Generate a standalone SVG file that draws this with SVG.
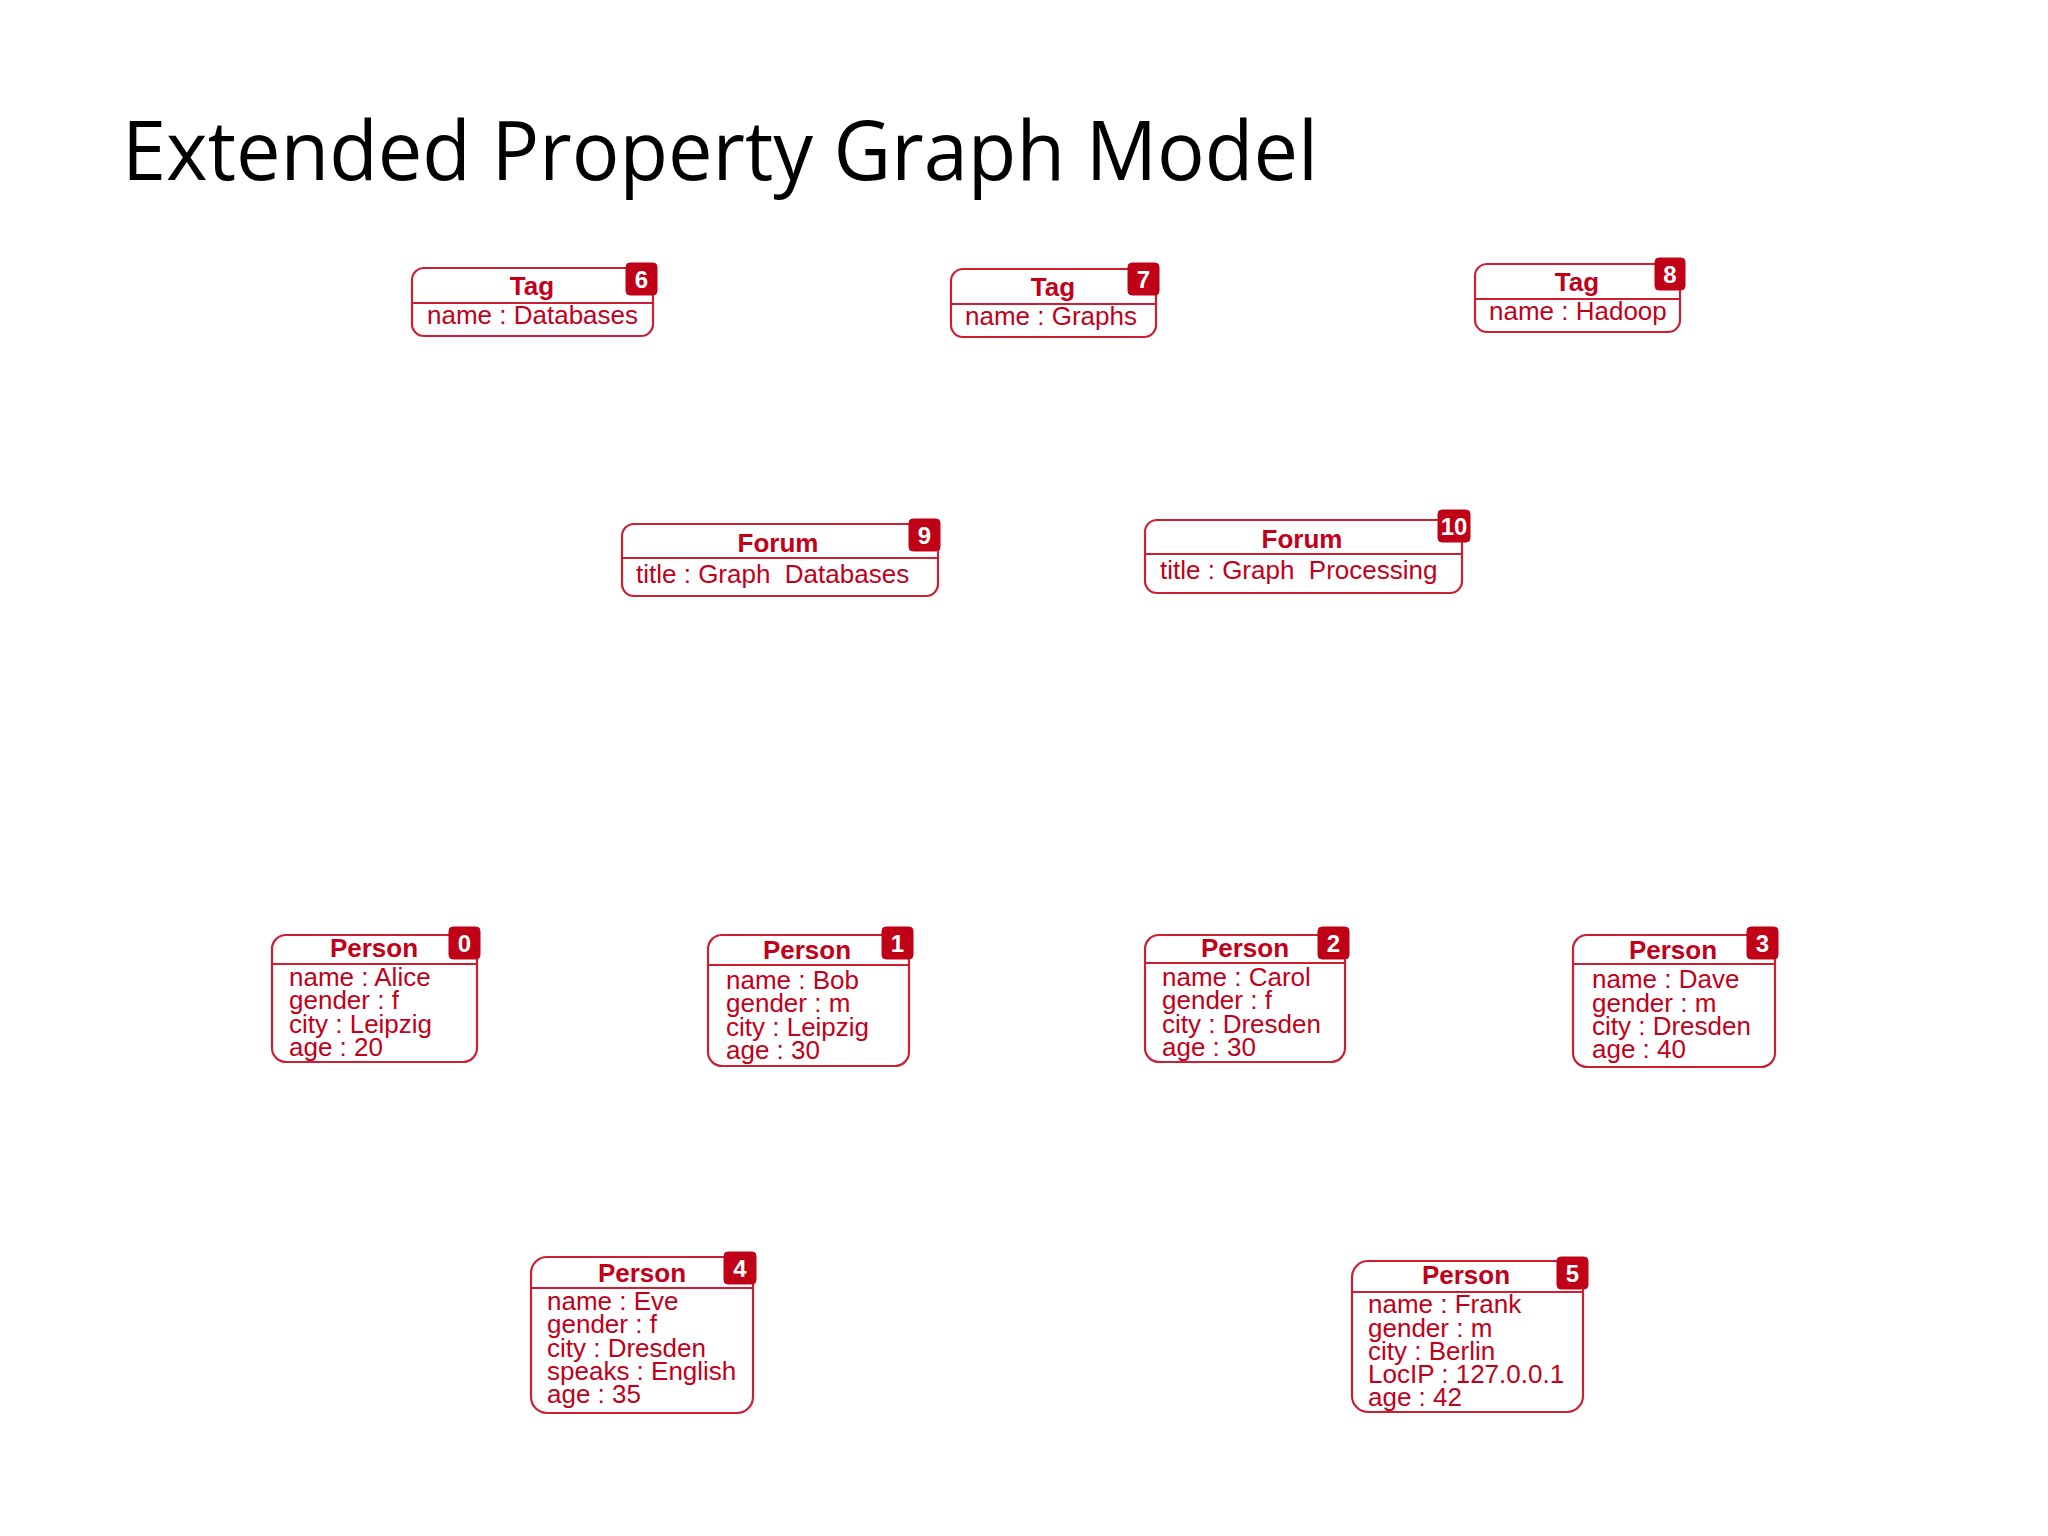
<svg xmlns="http://www.w3.org/2000/svg" width="2048" height="1536" viewBox="0 0 2048 1536">
<style>
.bg{fill:#ffffff}
.title{font-family:"Open Sans","Noto Sans","Liberation Sans",sans-serif;font-size:82px;fill:#000000}
.box{fill:#ffffff;stroke:#cc1f33;stroke-width:2.2}
.div{stroke:#cc1f33;stroke-width:2.2}
.badge{fill:#c00016;stroke:#c00016;stroke-width:1}
.bnum{font-family:"Liberation Sans",Arial,sans-serif;font-weight:bold;font-size:24px;fill:#ffffff;text-anchor:middle}
.lbl{font-family:"Liberation Sans",Arial,sans-serif;font-weight:bold;font-size:26px;fill:#c2001a;text-anchor:middle}
.prop{font-family:"Liberation Sans",Arial,sans-serif;font-size:26px;fill:#c2001a}
</style>
<rect class="bg" x="0" y="0" width="2048" height="1536"/>
<text class="title" x="122" y="180" textLength="1196" lengthAdjust="spacingAndGlyphs">Extended Property Graph Model</text>

<g id="connectors"></g>

<g id="node6">
<rect class="box" x="412" y="268" width="241" height="68" rx="12"/>
<line class="div" x1="412" y1="303" x2="653" y2="303"/>
<rect class="badge" x="626" y="263" width="31" height="32" rx="4"/>
<text class="bnum" x="641.5" y="288">6</text>
<text class="lbl" x="532" y="295">Tag</text>
<text class="prop" x="427" y="324">name : Databases</text>
</g>

<g id="node7">
<rect class="box" x="951" y="269" width="205" height="68" rx="12"/>
<line class="div" x1="951" y1="304" x2="1156" y2="304"/>
<rect class="badge" x="1128" y="263" width="31" height="32" rx="4"/>
<text class="bnum" x="1143.5" y="288">7</text>
<text class="lbl" x="1053" y="296">Tag</text>
<text class="prop" x="965" y="325">name : Graphs</text>
</g>

<g id="node8">
<rect class="box" x="1475" y="264" width="205" height="68" rx="12"/>
<line class="div" x1="1475" y1="299" x2="1680" y2="299"/>
<rect class="badge" x="1655" y="258" width="30" height="32" rx="4"/>
<text class="bnum" x="1670" y="283">8</text>
<text class="lbl" x="1577" y="291">Tag</text>
<text class="prop" x="1489" y="320">name : Hadoop</text>
</g>

<g id="node9">
<rect class="box" x="622" y="524" width="316" height="72" rx="12"/>
<line class="div" x1="622" y1="558" x2="938" y2="558"/>
<rect class="badge" x="909" y="519" width="31" height="32" rx="4"/>
<text class="bnum" x="924.5" y="544">9</text>
<text class="lbl" x="778" y="552">Forum</text>
<text class="prop" x="636" y="583" xml:space="preserve">title : Graph  Databases</text>
</g>

<g id="node10">
<rect class="box" x="1145" y="520" width="317" height="73" rx="12"/>
<line class="div" x1="1145" y1="554" x2="1462" y2="554"/>
<rect class="badge" x="1438" y="510" width="32" height="32" rx="4"/>
<text class="bnum" x="1454" y="535">10</text>
<text class="lbl" x="1302" y="548">Forum</text>
<text class="prop" x="1160" y="579" xml:space="preserve">title : Graph  Processing</text>
</g>

<g id="node0">
<rect class="box" x="272" y="935" width="205" height="127" rx="14"/>
<line class="div" x1="272" y1="964" x2="477" y2="964"/>
<rect class="badge" x="449" y="927" width="31" height="32" rx="4"/>
<text class="bnum" x="464.5" y="952">0</text>
<text class="lbl" x="374" y="957">Person</text>
<text class="prop" x="289" y="986">name : Alice</text>
<text class="prop" x="289" y="1009">gender : f</text>
<text class="prop" x="289" y="1033">city : Leipzig</text>
<text class="prop" x="289" y="1056">age : 20</text>
</g>

<g id="node1">
<rect class="box" x="708" y="935" width="201" height="131" rx="14"/>
<line class="div" x1="708" y1="965" x2="909" y2="965"/>
<rect class="badge" x="882" y="927" width="31" height="32" rx="4"/>
<text class="bnum" x="897.5" y="952">1</text>
<text class="lbl" x="807" y="959">Person</text>
<text class="prop" x="726" y="989">name : Bob</text>
<text class="prop" x="726" y="1012">gender : m</text>
<text class="prop" x="726" y="1036">city : Leipzig</text>
<text class="prop" x="726" y="1059">age : 30</text>
</g>

<g id="node2">
<rect class="box" x="1145" y="935" width="200" height="127" rx="14"/>
<line class="div" x1="1145" y1="963" x2="1345" y2="963"/>
<rect class="badge" x="1318" y="927" width="31" height="32" rx="4"/>
<text class="bnum" x="1333.5" y="952">2</text>
<text class="lbl" x="1245" y="957">Person</text>
<text class="prop" x="1162" y="986">name : Carol</text>
<text class="prop" x="1162" y="1009">gender : f</text>
<text class="prop" x="1162" y="1033">city : Dresden</text>
<text class="prop" x="1162" y="1056">age : 30</text>
</g>

<g id="node3">
<rect class="box" x="1573" y="935" width="202" height="132" rx="14"/>
<line class="div" x1="1573" y1="964" x2="1775" y2="964"/>
<rect class="badge" x="1747" y="927" width="31" height="32" rx="4"/>
<text class="bnum" x="1762.5" y="952">3</text>
<text class="lbl" x="1673" y="959">Person</text>
<text class="prop" x="1592" y="988">name : Dave</text>
<text class="prop" x="1592" y="1012">gender : m</text>
<text class="prop" x="1592" y="1035">city : Dresden</text>
<text class="prop" x="1592" y="1058">age : 40</text>
</g>

<g id="node4">
<rect class="box" x="531" y="1257" width="222" height="156" rx="16"/>
<line class="div" x1="531" y1="1288" x2="753" y2="1288"/>
<rect class="badge" x="724" y="1252" width="32" height="32" rx="4"/>
<text class="bnum" x="740" y="1277">4</text>
<text class="lbl" x="642" y="1282">Person</text>
<text class="prop" x="547" y="1310">name : Eve</text>
<text class="prop" x="547" y="1333">gender : f</text>
<text class="prop" x="547" y="1357">city : Dresden</text>
<text class="prop" x="547" y="1380">speaks : English</text>
<text class="prop" x="547" y="1403">age : 35</text>
</g>

<g id="node5">
<rect class="box" x="1352" y="1261" width="231" height="151" rx="16"/>
<line class="div" x1="1352" y1="1292" x2="1583" y2="1292"/>
<rect class="badge" x="1557" y="1257" width="31" height="32" rx="4"/>
<text class="bnum" x="1572.5" y="1282">5</text>
<text class="lbl" x="1466" y="1284">Person</text>
<text class="prop" x="1368" y="1313">name : Frank</text>
<text class="prop" x="1368" y="1337">gender : m</text>
<text class="prop" x="1368" y="1360">city : Berlin</text>
<text class="prop" x="1368" y="1383">LocIP : 127.0.0.1</text>
<text class="prop" x="1368" y="1406">age : 42</text>
</g>
</svg>
